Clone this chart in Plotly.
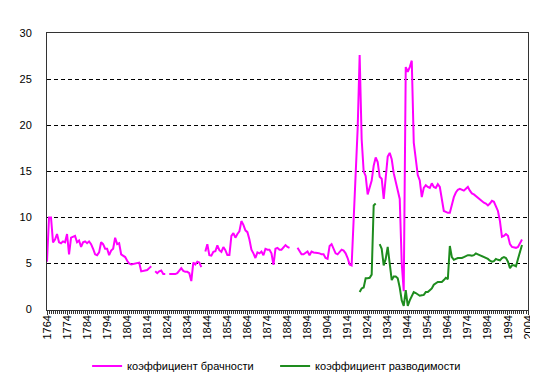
import plotly.graph_objects as go

years = list(range(1764, 2002))

marriage_rate = [
    5.2, 10.0, 10.0, 7.3, 7.6, 8.2, 7.3, 7.2, 7.4, 7.3,          # 1764-1773
    8.2, 6.0, 7.8, 7.9, 8.0, 7.3, 7.5, 6.8, 7.3, 7.4,            # 1774-1783
    7.2, 7.4, 7.1, 6.6, 6.0, 5.9, 6.2, 7.3, 7.1, 6.6,            # 1784-1793
    6.6, 5.9, 6.4, 6.6, 7.8, 7.1, 7.2, 6.0, 5.8, 5.7,            # 1794-1803
    5.3, 5.0, 4.9, 4.95, 5.0, 5.0, 5.1, 4.15, 4.2, 4.25,         # 1804-1813
    4.3, 4.5, 4.7, None, 4.15, 3.95, 4.15, 4.25, 3.87, 3.87,     # 1814-1823
    None, 3.85, 3.85, 3.85, 3.85, 3.95, 4.2, 4.5, 4.2, 4.1,      # 1824-1833
    4.1, 3.95, 3.1, 5.1, 4.9, 5.2, 5.1, 4.6, None, 6.3,          # 1834-1843
    7.1, 5.9, 5.85, 6.26, 6.33, 6.97, 6.44, 6.26, 6.79, 6.44,    # 1844-1853
    5.91, 5.91, 8.0, 8.3, 7.8, 8.2, 8.5, 9.6, 9.2, 8.6,          # 1854-1863
    8.4, 7.6, 6.5, 6.1, 5.6, 6.2, 6.1, 6.3, 5.9, 6.6,            # 1864-1873
    6.5, 6.5, 6.1, 4.85, 6.6, 6.7, 6.5, 6.5, 6.8, 7.0,           # 1874-1883
    6.8, 6.7, None, None, None, 6.7, 6.3, 6.0, 6.0, 6.2,         # 1884-1893
    6.3, 5.9, 6.3, 6.2, 6.2, 6.15, 6.1, 6.0, 6.0, 5.6,           # 1894-1903
    5.5, 6.9, 7.1, 6.5, 6.1, 6.0, 6.3, 6.5, 6.4, 6.1,            # 1904-1913
    5.6, 4.9, 4.8, 9.4, 14.4, 19.6, 27.6, 18.5, 15.0, 14.5,      # 1914-1923
    12.5, 13.3, 14.0, 15.6, 16.5, 16.0, 14.4, 14.2, 12.0, 14.3,  # 1924-1933
    16.6, 17.0, 16.3, 14.8, 13.8, 12.8, 12.0, 5.0, 2.0, 26.3,    # 1934-1943
    25.8, 26.3, 27.0, 18.1, 16.5, 14.6, 14.0, 12.2, 13.2, 13.5,  # 1944-1953
    13.3, 13.2, 13.7, 13.3, 13.2, 13.6, 13.3, 12.0, 10.7, 10.6,  # 1954-1963
    10.5, 10.5, 11.5, 12.2, 12.7, 13.0, 13.1, 13.0, 12.9, 13.1,  # 1964-1973
    13.3, 12.9, 12.6, 12.5, 12.3, 12.2, 12.0, 11.7, 11.6, 11.5,  # 1974-1983
    11.3, 11.5, 11.8, 11.7, 11.2, 10.7, 9.6, 7.9, 8.0, 8.2,      # 1984-1993
    8.0, 7.1, 6.8, 6.75, 6.7, 6.8, 7.3, 7.6,                     # 1994-2001
]

divorce_rate = [None] * (1920 - 1764) + [
    1.9, 2.3, 2.4, 3.4, 3.4, 3.45, 3.8, 11.3, 11.5, None,        # 1920-1929
    7.1, 6.6, 4.8, 5.5, 6.8, 5.0, 3.2, 3.6, 3.6, 3.4,            # 1930-1939
    2.4, 1.0, 0.4, 2.1, 0.4, 1.0, 1.5, 1.9, 1.8, 1.6,            # 1940-1949
    1.5, 1.55, 1.6, 1.9, 1.9, 2.1, 2.3, 2.7, 2.9, 3.0,           # 1950-1959
    3.0, 3.0, 3.2, 3.45, 3.3, 6.9, 5.7, 5.4, 5.5, 5.6,           # 1960-1969
    5.6, 5.6, 5.7, 5.8, 5.9, 5.9, 5.85, 5.9, 6.1, 6.0,           # 1970-1979
    5.9, 5.85, 5.7, 5.6, 5.5, 5.3, 5.2, 5.25, 5.5, 5.4,          # 1980-1989
    5.35, 5.6, 5.7, 5.6, 5.2, 4.5, 4.8, 4.8, 4.7, 5.5,           # 1990-1999
    6.4, 7.0,                                                    # 2000-2001
]

series_names = ["коэффициент брачности", "коэффициент разводимости"]
x_tick_values = list(range(1764, 2005, 10))
y_tick_values = [0, 5, 10, 15, 20, 25, 30]

FONT = "Arial, Liberation Sans, sans-serif"

fig = go.Figure()
fig.add_trace(go.Scatter(
    x=years, y=marriage_rate, mode="lines", name=series_names[0],
    line=dict(color="#FF00FF", width=2), connectgaps=False,
))
fig.add_trace(go.Scatter(
    x=years, y=divorce_rate, mode="lines", name=series_names[1],
    line=dict(color="#1E8C1E", width=2), connectgaps=False,
))

fig.update_layout(
    width=538, height=381,
    margin=dict(l=38, r=15, t=25, b=72),
    paper_bgcolor="white", plot_bgcolor="white",
    font=dict(family=FONT, size=11, color="black"),
    showlegend=True,
    legend=dict(
        orientation="h", x=0.5 - 12.5 / 485, xanchor="center",
        yref="container", y=1 - 358 / 381, yanchor="middle",
        font=dict(family=FONT, size=11, color="black"),
        bgcolor="rgba(0,0,0,0)", itemwidth=30,
        entrywidth=143, entrywidthmode="pixels",
    ),
)

fig.update_xaxes(
    range=[1764, 2004],
    tickmode="array", tickvals=x_tick_values,
    ticktext=[str(v) for v in x_tick_values],
    tickangle=-90, ticklabelstandoff=-4,
    ticks="outside", ticklen=4, tickcolor="#333333", tickwidth=1,
    minor=dict(dtick=1, tick0=1764, ticks="outside", ticklen=3,
               tickcolor="#333333", tickwidth=1, showgrid=False),
    showgrid=False, zeroline=False,
    showline=True, linecolor="#333333", linewidth=1, mirror=True,
    tickfont=dict(family=FONT, size=11, color="black"),
)

fig.update_yaxes(
    range=[0, 30],
    tickmode="array", tickvals=y_tick_values,
    ticktext=[str(v) for v in y_tick_values],
    ticks="", ticklabelstandoff=12,
    showgrid=True, gridcolor="black", gridwidth=1, griddash="4px,3px",
    zeroline=False,
    showline=True, linecolor="#333333", linewidth=1, mirror=True,
    tickfont=dict(family=FONT, size=11, color="black"),
)

fig.write_html("out.html")
